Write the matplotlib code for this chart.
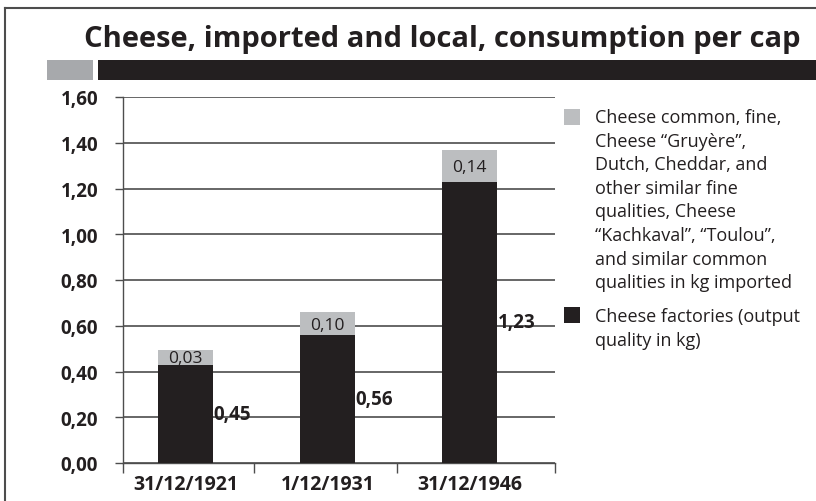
#!/usr/bin/env python3

import matplotlib
matplotlib.use("Agg")
import matplotlib.pyplot as plt
from matplotlib.patches import Rectangle
from matplotlib.lines import Line2D

plt.rcParams["font.family"] = ["Open Sans", "DejaVu Sans"]

# Data
categories = ["31/12/1921", "1/12/1931", "31/12/1946"]
factories = [0.43, 0.56, 1.23]          # dark segment (bar height as drawn)
imported = [0.065, 0.10, 0.14]          # gray segment on top
factories_labels = ["0,45", "0,56", "1,23"]
imported_labels = ["0,03", "0,10", "0,14"]
yticks = [0.0, 0.2, 0.4, 0.6, 0.8, 1.0, 1.2, 1.4, 1.6]

legend_imported = ("Cheese common, fine,\nCheese \u201cGruy\u00e8re\u201d,\nDutch, Cheddar, and\n"
                   "other similar fine\nqualities, Cheese\n\u201cKachkaval\u201d, \u201cToulou\u201d,\n"
                   "and similar common\nqualities in kg imported")
legend_factories = "Cheese factories (output\nquality in kg)"

DARK = "#231f20"
LIGHT = "#bcbec0"
W, H = 816, 502
BOLD = "bold"

fig = plt.figure(figsize=(8.16, 5.02), dpi=100)
ax = fig.add_axes([123 / W, 1 - 464 / H, (555 - 123) / W, (464 - 98) / H])

x = list(range(len(categories)))
bw = 0.39
ax.bar(x, factories, width=bw, color=DARK, zorder=3)
ax.bar(x, imported, width=bw, bottom=factories, color=LIGHT, zorder=3)

for i in x:
    ax.text(i + bw / 2 + 0.003, factories[i] / 2, factories_labels[i], ha="left", va="center",
            fontsize=13.5, fontweight=BOLD, color=DARK, zorder=4)
    ax.text(i, factories[i] + imported[i] / 2 - 0.005, imported_labels[i], ha="center", va="center",
            fontsize=12.5, color=DARK, zorder=4)

ax.set_xlim(-0.44, 2.6)
ax.set_ylim(0, 1.6)
ax.set_yticks(yticks)
ax.set_yticklabels([f"{v:.2f}".replace(".", ",") for v in yticks], fontsize=13.5, fontweight=BOLD, color=DARK)
ax.yaxis.grid(True, color="#4d4d4d", linewidth=1.2, zorder=1)
ax.tick_params(axis="y", length=6, width=1, color="#4d4d4d", pad=12)

ax.set_xticks(x)
ax.set_xticklabels(categories, fontsize=14, fontweight=BOLD, color=DARK)
ax.set_xticks([-0.44, 0.48, 1.49, 2.6], minor=True)
ax.tick_params(axis="x", which="major", length=0, pad=8)
ax.tick_params(axis="x", which="minor", length=7, width=1, color="#4d4d4d", direction="out")

for s in ["top", "right"]:
    ax.spines[s].set_visible(False)
for s in ["left", "bottom"]:
    ax.spines[s].set_color("#4d4d4d")
    ax.spines[s].set_linewidth(1)

# Frame (left and top)
fig.add_artist(Line2D([5 / W, 5 / W], [0, 1 - 9 / H], color="#4d4d4d", lw=1.5))
fig.add_artist(Line2D([5 / W, 1], [1 - 9 / H, 1 - 9 / H], color="#4d4d4d", lw=1.5))

# Title and header bars
fig.text(442 / W, 1 - 39 / H, "Cheese, imported and local, consumption per cap",
         ha="center", va="center", fontsize=21, fontweight=BOLD, color=DARK)
fig.add_artist(Rectangle((47 / W, 1 - 81 / H), 46 / W, 20 / H, transform=fig.transFigure,
                         color="#a7a9ac", lw=0))
fig.add_artist(Rectangle((98 / W, 1 - 81 / H), 1 - 98 / W, 20 / H, transform=fig.transFigure,
                         color=DARK, lw=0))

# Legend
fig.add_artist(Rectangle((564 / W, 1 - 126 / H), 16 / W, 16 / H, transform=fig.transFigure,
                         color=LIGHT, lw=0))
fig.text(595 / W, 1 - 109 / H, legend_imported, ha="left", va="top", fontsize=13,
         linespacing=1.4, color=DARK)
fig.add_artist(Rectangle((564 / W, 1 - 324 / H), 16 / W, 16 / H, transform=fig.transFigure,
                         color=DARK, lw=0))
fig.text(595 / W, 1 - 308 / H, legend_factories, ha="left", va="top", fontsize=13,
         linespacing=1.4, color=DARK)

fig.savefig("out.png", dpi=100)
